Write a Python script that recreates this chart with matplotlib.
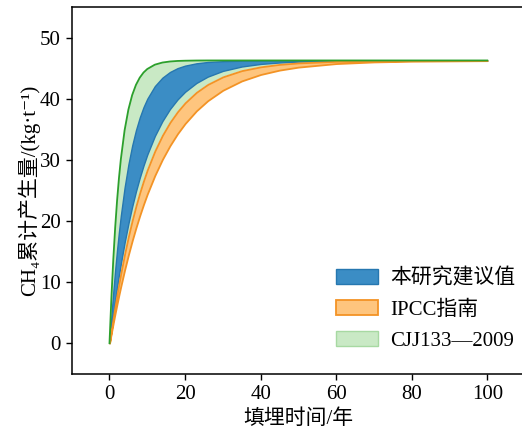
import matplotlib
matplotlib.use("Agg")
import matplotlib.pyplot as plt
from matplotlib.patches import Patch

plt.rcParams['font.family'] = ['Liberation Serif', 'Noto Sans CJK SC', 'DejaVu Serif']
plt.rcParams['font.size'] = 15

# landfill time (years) and cumulative CH4 (kg/t)
years = [0, 0.5, 1, 1.5, 2, 2.5, 3, 4, 5, 6, 7, 8, 9, 10, 12, 14, 16, 18, 20,
         23, 26, 30, 35, 40, 45, 50, 60, 70, 80, 100]

cjj_upper = [0, 7.43, 13.67, 18.91, 23.31, 27.00, 30.10, 34.88, 38.25, 40.63,
             42.30, 43.48, 44.32, 44.90, 45.61, 45.96, 46.13, 46.22, 46.26,
             46.29, 46.3, 46.3, 46.3, 46.3, 46.3, 46.3, 46.3, 46.3, 46.3, 46.3]
ours_upper = [0, 4.41, 8.39, 12.00, 15.27, 18.22, 20.89, 25.50, 29.27, 32.35,
              34.88, 36.95, 38.65, 40.03, 42.10, 43.48, 44.41, 45.04, 45.45,
              45.83, 46.05, 46.18, 46.26, 46.3, 46.3, 46.3, 46.3, 46.3, 46.3, 46.3]
ours_lower = [0, 2.48, 4.82, 7.04, 9.14, 11.13, 13.01, 16.48, 19.59, 22.37,
              24.86, 27.09, 29.09, 30.89, 33.93, 36.37, 38.34, 39.91, 41.17,
              42.61, 43.65, 44.59, 45.31, 45.73, 45.97, 46.11, 46.24, 46.3, 46.3, 46.3]
ipcc_upper = [0, 2.15, 4.19, 6.15, 8.01, 9.79, 11.48, 14.64, 17.51, 20.12,
              22.49, 24.65, 26.61, 28.40, 31.49, 34.05, 36.17, 37.92, 39.37,
              41.09, 42.38, 43.62, 44.64, 45.26, 45.66, 45.90, 46.15, 46.24, 46.28, 46.3]
ipcc_lower = [0, 1.70, 3.35, 4.93, 6.45, 7.92, 9.33, 12.00, 14.48, 16.78,
              18.91, 20.89, 22.72, 24.43, 27.47, 30.10, 32.35, 34.30, 35.97,
              38.05, 39.71, 41.42, 42.95, 44.00, 44.72, 45.21, 45.79, 46.06, 46.18, 46.27]

labels = ['本研究建议值', 'IPCC指南', 'CJJ133—2009']

fig = plt.figure(figsize=(5.22, 4.29), dpi=100)
ax = fig.add_axes([0.1374, 0.1289, 0.8684, 0.854])

# CJJ band first, the others are drawn over it
ax.fill_between(years, ipcc_upper, cjj_upper, facecolor='#c9e9c5', edgecolor='none', zorder=1)
ax.plot(years, cjj_upper, color='#2ca02c', lw=1.3, zorder=4)
ax.fill_between(years, ours_lower, ours_upper, facecolor='#3b8dc5', edgecolor='#2677b0', lw=1.0, zorder=2)
ax.fill_between(years, ipcc_lower, ipcc_upper, facecolor='#fec57e', edgecolor='#f39325', lw=1.3, zorder=3)

ax.set_xlim(-10, 110)
ax.set_ylim(-5, 55)
ax.set_xticks([0, 20, 40, 60, 80, 100])
ax.set_yticks([0, 10, 20, 30, 40, 50])
ax.tick_params(direction='out', length=4.5, width=1.0, labelsize=15)
for s in ax.spines.values():
    s.set_linewidth(1.1)

ax.set_xlabel('填埋时间/年', fontsize=15, labelpad=4)
ax.set_ylabel('CH₄累计产生量/(kg·t⁻¹)', fontsize=15, labelpad=0)

handles = [Patch(facecolor='#3b8dc5', edgecolor='#2677b0', lw=1.0),
           Patch(facecolor='#fec57e', edgecolor='#f39325', lw=1.3),
           Patch(facecolor='#c9e9c5', edgecolor='#a7d9a2', lw=1.0)]
ax.legend(handles, labels, loc='lower right', bbox_to_anchor=(1.007, 0.028),
          frameon=False, fontsize=15, handlelength=2.0, handleheight=0.7,
          labelspacing=0.55, handletextpad=0.6, borderaxespad=0.2)

fig.savefig('out.png', dpi=100)
